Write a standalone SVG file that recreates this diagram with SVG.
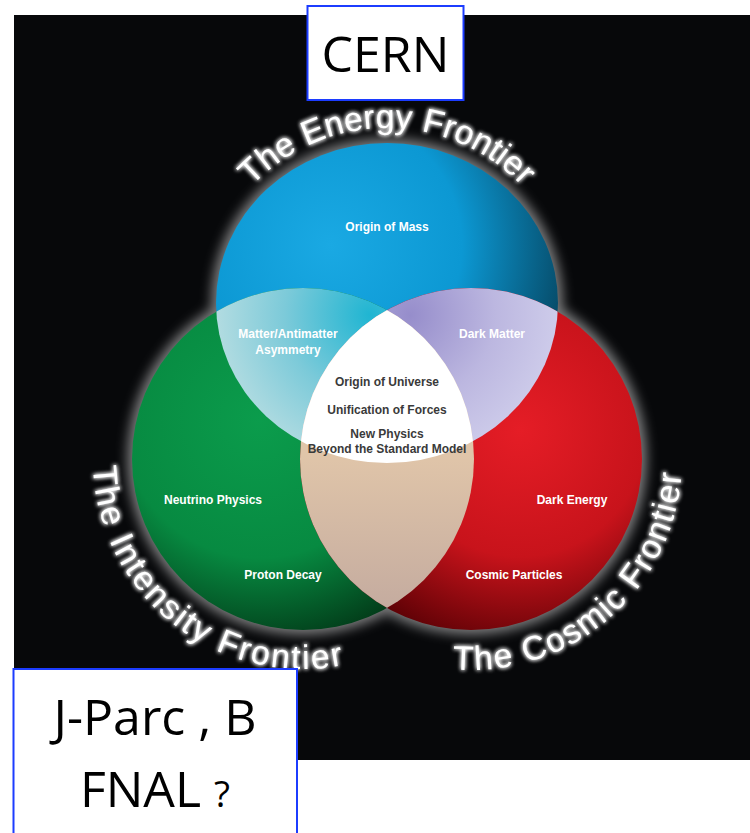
<svg xmlns="http://www.w3.org/2000/svg" width="750" height="833" viewBox="0 0 750 833">
<defs>
<style>
.lbl{font-family:"Liberation Sans",Arial,sans-serif;font-weight:bold;font-size:12px;fill:#ffffff;text-anchor:middle}
.dk{fill:#3a3a3a}
.arc{font-family:"Liberation Sans",Arial,sans-serif;font-size:34px;fill:#ffffff}
.box{fill:#ffffff;stroke:#1c3cff;stroke-width:2}
.bt{font-family:"Open Sans","Noto Sans",sans-serif;fill:#000000;text-anchor:middle}
</style>
<radialGradient id="gBlue" gradientUnits="userSpaceOnUse" cx="330" cy="245" r="240">
<stop offset="0" stop-color="#1aa9e3"/><stop offset="0.55" stop-color="#0c98d3"/><stop offset="1" stop-color="#064a67"/>
</radialGradient>
<radialGradient id="gGreen" gradientUnits="userSpaceOnUse" cx="260" cy="420" r="230">
<stop offset="0" stop-color="#0b9c4c"/><stop offset="0.6" stop-color="#078a41"/><stop offset="1" stop-color="#023a18"/>
</radialGradient>
<radialGradient id="gRed" gradientUnits="userSpaceOnUse" cx="520" cy="430" r="230">
<stop offset="0" stop-color="#e51d26"/><stop offset="0.55" stop-color="#c8131b"/><stop offset="1" stop-color="#560004"/>
</radialGradient>
<radialGradient id="gBG" gradientUnits="userSpaceOnUse" cx="370" cy="315" r="170">
<stop offset="0" stop-color="#1fb5d2"/><stop offset="0.5" stop-color="#7ccad9"/><stop offset="1" stop-color="#bfe0e3"/>
</radialGradient>
<radialGradient id="gBR" gradientUnits="userSpaceOnUse" cx="410" cy="315" r="170">
<stop offset="0" stop-color="#968dcb"/><stop offset="0.5" stop-color="#bcb7e0"/><stop offset="1" stop-color="#d4d3ee"/>
</radialGradient>
<linearGradient id="gGR" gradientUnits="userSpaceOnUse" x1="0" y1="455" x2="0" y2="610">
<stop offset="0" stop-color="#e0c5a9"/><stop offset="1" stop-color="#c4ab9f"/>
</linearGradient>
<clipPath id="cB"><ellipse cx="387" cy="303" rx="171" ry="160"/></clipPath>
<clipPath id="cG"><circle cx="303" cy="459" r="171"/></clipPath>
<clipPath id="cR"><circle cx="471" cy="459" r="171"/></clipPath>
<filter id="halo" x="-20%" y="-20%" width="140%" height="140%"><feGaussianBlur stdDeviation="6"/></filter>
<filter id="tglow" x="-10%" y="-10%" width="120%" height="120%">
<feGaussianBlur in="SourceGraphic" stdDeviation="2.2" result="b"/>
<feMerge><feMergeNode in="b"/><feMergeNode in="b"/><feMergeNode in="SourceGraphic"/></feMerge>
</filter>
<path id="pE" d="M 201 314 A 186 186 0 0 1 573 314"/>
<path id="pI" d="M 93.1 466.3 A 210 210 0 0 0 438 619.9"/>
<path id="pC" d="M 452.6 669.2 A 211 211 0 0 0 669.3 386.8"/>
</defs>
<rect x="0" y="0" width="750" height="833" fill="#ffffff"/>
<rect id="background" x="14" y="15" width="736" height="745" fill="#07080a"/>
<g id="halo-ring" filter="url(#halo)" fill="#d8d8d8" opacity="0.55">
<ellipse cx="387" cy="303" rx="176" ry="165"/><circle cx="303" cy="459" r="176"/><circle cx="471" cy="459" r="176"/>
</g>
<g id="energy-frontier">
<ellipse cx="387" cy="303" rx="171" ry="160" fill="url(#gBlue)"/>
<text class="lbl" x="387" y="231">Origin of Mass</text>
</g>
<g id="intensity-frontier">
<circle cx="303" cy="459" r="171" fill="url(#gGreen)"/>
<text class="lbl" x="213" y="504">Neutrino Physics</text>
<text class="lbl" x="283" y="579">Proton Decay</text>
</g>
<g id="cosmic-frontier">
<circle cx="471" cy="459" r="171" fill="url(#gRed)"/>
<text class="lbl" x="572" y="504">Dark Energy</text>
<text class="lbl" x="514" y="579">Cosmic Particles</text>
</g>
<g id="energy-intensity" clip-path="url(#cB)">
<circle cx="303" cy="459" r="171" fill="url(#gBG)"/>
</g>
<g id="energy-cosmic" clip-path="url(#cB)">
<circle cx="471" cy="459" r="171" fill="url(#gBR)"/>
</g>
<g id="intensity-cosmic" clip-path="url(#cG)">
<circle cx="471" cy="459" r="171" fill="url(#gGR)"/>
</g>
<g id="all-three" clip-path="url(#cB)">
<g clip-path="url(#cG)"><circle cx="471" cy="459" r="171" fill="#ffffff"/></g>
</g>
<g id="overlap-labels">
<text class="lbl" x="288" y="338">Matter/Antimatter</text>
<text class="lbl" x="288" y="354">Asymmetry</text>
<text class="lbl" x="492" y="338">Dark Matter</text>
<text class="lbl dk" x="387" y="386">Origin of Universe</text>
<text class="lbl dk" x="387" y="414">Unification of Forces</text>
<text class="lbl dk" x="387" y="438">New Physics</text>
<text class="lbl dk" x="387" y="453">Beyond the Standard Model</text>
</g>
<g id="frontier-titles" filter="url(#tglow)">
<text class="arc"><textPath href="#pE" startOffset="50%" text-anchor="middle">The Energy Frontier</textPath></text>
<text class="arc" letter-spacing="2"><textPath href="#pI">The Intensity Frontier</textPath></text>
<text class="arc" letter-spacing="1.5"><textPath href="#pC">The Cosmic Frontier</textPath></text>
</g>
<g id="connectors"/>
<g id="cern-box">
<rect class="box" x="307.5" y="6" width="156" height="94"/>
<text class="bt" x="385.5" y="72" font-size="50">CERN</text>
</g>
<g id="jparc-box">
<rect class="box" x="13.5" y="669" width="283.5" height="180"/>
<text class="bt" x="155" y="735" font-size="50">J-Parc , B</text>
<text class="bt" x="155" y="807" font-size="50">FNAL <tspan font-size="37">?</tspan></text>
</g>
</svg>
